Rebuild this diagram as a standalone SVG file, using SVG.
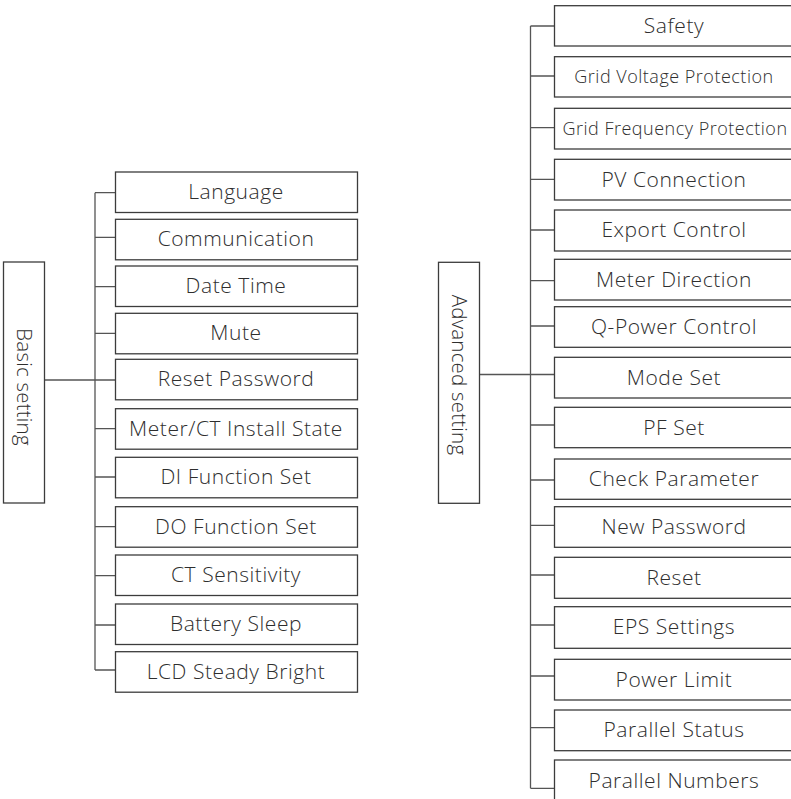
<svg xmlns="http://www.w3.org/2000/svg" width="791" height="799" viewBox="0 0 791 799">
<style>
.box{fill:#fff;stroke:#3c3c3c;stroke-width:1.3}
.ln{fill:none;stroke:#555;stroke-width:1.3}
.t{font-family:"Open Sans","Liberation Sans",sans-serif;font-size:21px;font-weight:350;letter-spacing:0.55px;fill:#2e2e2e;text-anchor:middle}
.v{font-size:20.5px;letter-spacing:0.2px}
.s{font-size:18px;letter-spacing:0.5px}
</style>
<rect width="791" height="799" fill="#fff"/>
<g id="connectors">
<path class="ln" d="M44.5 380H115.5M95 192.7V670M95 192.7H115.5M95 237.3H115.5M95 286.7H115.5M95 333.3H115.5M95 428.7H115.5M95 477H115.5M95 526.7H115.5M95 575.7H115.5M95 625H115.5M95 670H115.5"/>
<path class="ln" d="M479.3 374.5H554.5M530.5 26V788.3M530.5 26H554.5M530.5 76H554.5M530.5 127.7H554.5M530.5 179.3H554.5M530.5 230H554.5M530.5 280.7H554.5M530.5 326H554.5M530.5 425H554.5M530.5 480H554.5M530.5 525.3H554.5M530.5 575H554.5M530.5 625H554.5M530.5 676H554.5M530.5 727.7H554.5M530.5 788.3H554.5"/>
</g>
<g id="basic"><rect class="box" x="3.5" y="262" width="41" height="241"/><text class="t v" transform="translate(17,387) rotate(90)">Basic setting</text></g>
<g id="advanced"><rect class="box" x="438.5" y="262.3" width="41" height="241"/><text class="t v" transform="translate(452,375) rotate(90)">Advanced setting</text></g>
<g id="b1"><rect class="box" x="115.5" y="172" width="242" height="40.5"/><text class="t" x="236" y="199">Language</text></g>
<g id="b2"><rect class="box" x="115.5" y="219.3" width="242" height="40.5"/><text class="t" x="236" y="246">Communication</text></g>
<g id="b3"><rect class="box" x="115.5" y="266" width="242" height="40.5"/><text class="t" x="236" y="293">Date Time</text></g>
<g id="b4"><rect class="box" x="115.5" y="313.3" width="242" height="40.5"/><text class="t" x="236" y="340">Mute</text></g>
<g id="b5"><rect class="box" x="115.5" y="359.3" width="242" height="40.5"/><text class="t" x="236" y="386">Reset Password</text></g>
<g id="b6"><rect class="box" x="115.5" y="408.7" width="242" height="40.5"/><text class="t" x="236" y="435.5">Meter/CT Install State</text></g>
<g id="b7"><rect class="box" x="115.5" y="457.3" width="242" height="40.5"/><text class="t" x="236" y="484">DI Function Set</text></g>
<g id="b8"><rect class="box" x="115.5" y="506.7" width="242" height="40.5"/><text class="t" x="236" y="533.5">DO Function Set</text></g>
<g id="b9"><rect class="box" x="115.5" y="555" width="242" height="40.5"/><text class="t" x="236" y="582">CT Sensitivity</text></g>
<g id="b10"><rect class="box" x="115.5" y="604" width="242" height="40.5"/><text class="t" x="236" y="631">Battery Sleep</text></g>
<g id="b11"><rect class="box" x="115.5" y="651.7" width="242" height="40.5"/><text class="t" x="236" y="678.5">LCD Steady Bright</text></g>
<g id="a1"><rect class="box" x="554.5" y="5.7" width="260" height="40.3"/><text class="t" x="674" y="33">Safety</text></g>
<g id="a2"><rect class="box" x="554.5" y="56.7" width="260" height="40.3"/><text class="t s" x="674" y="83">Grid Voltage Protection</text></g>
<g id="a3"><rect class="box" x="554.5" y="108.3" width="260" height="40.7"/><text class="t s" x="675" y="134.5">Grid Frequency Protection</text></g>
<g id="a4"><rect class="box" x="554.5" y="159.3" width="260" height="40.7"/><text class="t" x="674" y="186.5">PV Connection</text></g>
<g id="a5"><rect class="box" x="554.5" y="210" width="260" height="41"/><text class="t" x="674" y="237">Export Control</text></g>
<g id="a6"><rect class="box" x="554.5" y="259.3" width="260" height="40.7"/><text class="t" x="674" y="286.5">Meter Direction</text></g>
<g id="a7"><rect class="box" x="554.5" y="306.7" width="260" height="40.6"/><text class="t" x="674" y="333.5">Q-Power Control</text></g>
<g id="a8"><rect class="box" x="554.5" y="357.3" width="260" height="40.7"/><text class="t" x="674" y="384.5">Mode Set</text></g>
<g id="a9"><rect class="box" x="554.5" y="407.3" width="260" height="40.4"/><text class="t" x="674" y="434.5">PF Set</text></g>
<g id="a10"><rect class="box" x="554.5" y="459" width="260" height="40.3"/><text class="t" x="674" y="486">Check Parameter</text></g>
<g id="a11"><rect class="box" x="554.5" y="506.7" width="260" height="40.6"/><text class="t" x="674" y="533.5">New Password</text></g>
<g id="a12"><rect class="box" x="554.5" y="557.3" width="260" height="41"/><text class="t" x="674" y="584.5">Reset</text></g>
<g id="a13"><rect class="box" x="554.5" y="606.7" width="260" height="41.6"/><text class="t" x="674" y="634">EPS Settings</text></g>
<g id="a14"><rect class="box" x="554.5" y="659.3" width="260" height="40.7"/><text class="t" x="674" y="686.5">Power Limit</text></g>
<g id="a15"><rect class="box" x="554.5" y="710" width="260" height="40.7"/><text class="t" x="674" y="737">Parallel Status</text></g>
<g id="a16"><rect class="box" x="554.5" y="760" width="260" height="60"/><text class="t" x="674" y="787.5">Parallel Numbers</text></g>
</svg>
